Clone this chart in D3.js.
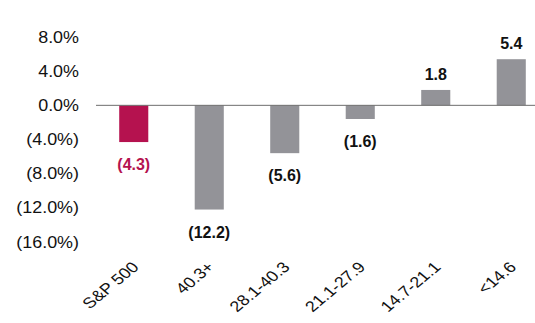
<!DOCTYPE html>
<html>
<head>
<meta charset="utf-8">
<script src="https://cdn.jsdelivr.net/npm/d3@7"></script>
<style>
  body { margin: 0; background: #fff; }
  text { font-family: "Liberation Sans", Arial, sans-serif; }
</style>
</head>
<body>
<div id="chart"></div>
<script>
// DATA
let categories = ["S&P 500", "40.3+", "28.1-40.3", "21.1-27.9", "14.7-21.1", "<14.6"];
let values = [-4.3, -12.2, -5.6, -1.6, 1.8, 5.4];
let yTicks = [8, 4, 0, -4, -8, -12, -16];

let w = 535;
let h = 323;
let stretch = 1.12; // source text looks a bit wide

let svg = d3.select("#chart").append("svg")
    .attr("width", w)
    .attr("height", h);

// SCALES
let xScale = d3.scaleBand()
    .domain(categories)
    .range([96, 549])
    .paddingInner(0.615)
    .paddingOuter(0.3075);

let yScale = d3.scaleLinear()
    .domain([-16, 8])
    .range([242, 37]);

let fmtTick = d => d < 0 ? "(" + Math.abs(d).toFixed(1) + "%)" : d.toFixed(1) + "%";
let fmtLabel = d => d < 0 ? "(" + Math.abs(d).toFixed(1) + ")" : d.toFixed(1);
let barColor = (d, i) => i === 0 ? "#b5124f" : "#939398";
let labelColor = (d, i) => i === 0 ? "#b5124f" : "#111";

// Y AXIS (labels only)
let yAxis = d3.axisLeft(yScale)
    .tickValues(yTicks)
    .tickFormat(fmtTick)
    .tickSize(0)
    .tickPadding(0);

svg.append("g")
    .attr("transform", "translate(79,0)")
    .call(yAxis)
    .call(g => g.select(".domain").remove())
    .selectAll("text")
    .attr("font-size", 16)
    .attr("font-family", "Liberation Sans, Arial, sans-serif")
    .attr("fill", "#111")
    .attr("transform", "scale(" + stretch + ",1)");

// BARS
svg.selectAll("rect.bar")
    .data(values)
    .enter()
    .append("rect")
    .attr("class", "bar")
    .attr("x", (d, i) => xScale(categories[i]))
    .attr("y", d => yScale(Math.max(0, d)))
    .attr("width", xScale.bandwidth())
    .attr("height", d => Math.abs(yScale(d) - yScale(0)))
    .attr("fill", barColor);

// ZERO LINE
svg.append("line")
    .attr("x1", xScale.range()[0])
    .attr("x2", xScale.range()[1])
    .attr("y1", yScale(0))
    .attr("y2", yScale(0))
    .attr("stroke", "#6e6e6e")
    .attr("stroke-width", 1);

// VALUE LABELS
svg.selectAll("text.valueLabel")
    .data(values)
    .enter()
    .append("text")
    .attr("class", "valueLabel")
    .attr("x", (d, i) => xScale(categories[i]) + xScale.bandwidth() / 2)
    .attr("y", d => d < 0 ? yScale(d) + 28 : yScale(d) - 10)
    .attr("text-anchor", "middle")
    .attr("font-size", 16)
    .attr("font-weight", "bold")
    .attr("fill", labelColor)
    .text(fmtLabel);

// X AXIS LABELS (rotated, slightly stretched)
svg.append("g")
    .selectAll("text")
    .data(categories)
    .enter()
    .append("text")
    .attr("transform", d => "translate(" + (xScale(d) + xScale.bandwidth() / 2 + 6) + ",268) scale(1.2,1) rotate(-45)")
    .attr("text-anchor", "end")
    .attr("font-size", 15)
    .attr("fill", "#111")
    .text(d => d);
</script>
</body>
</html>
